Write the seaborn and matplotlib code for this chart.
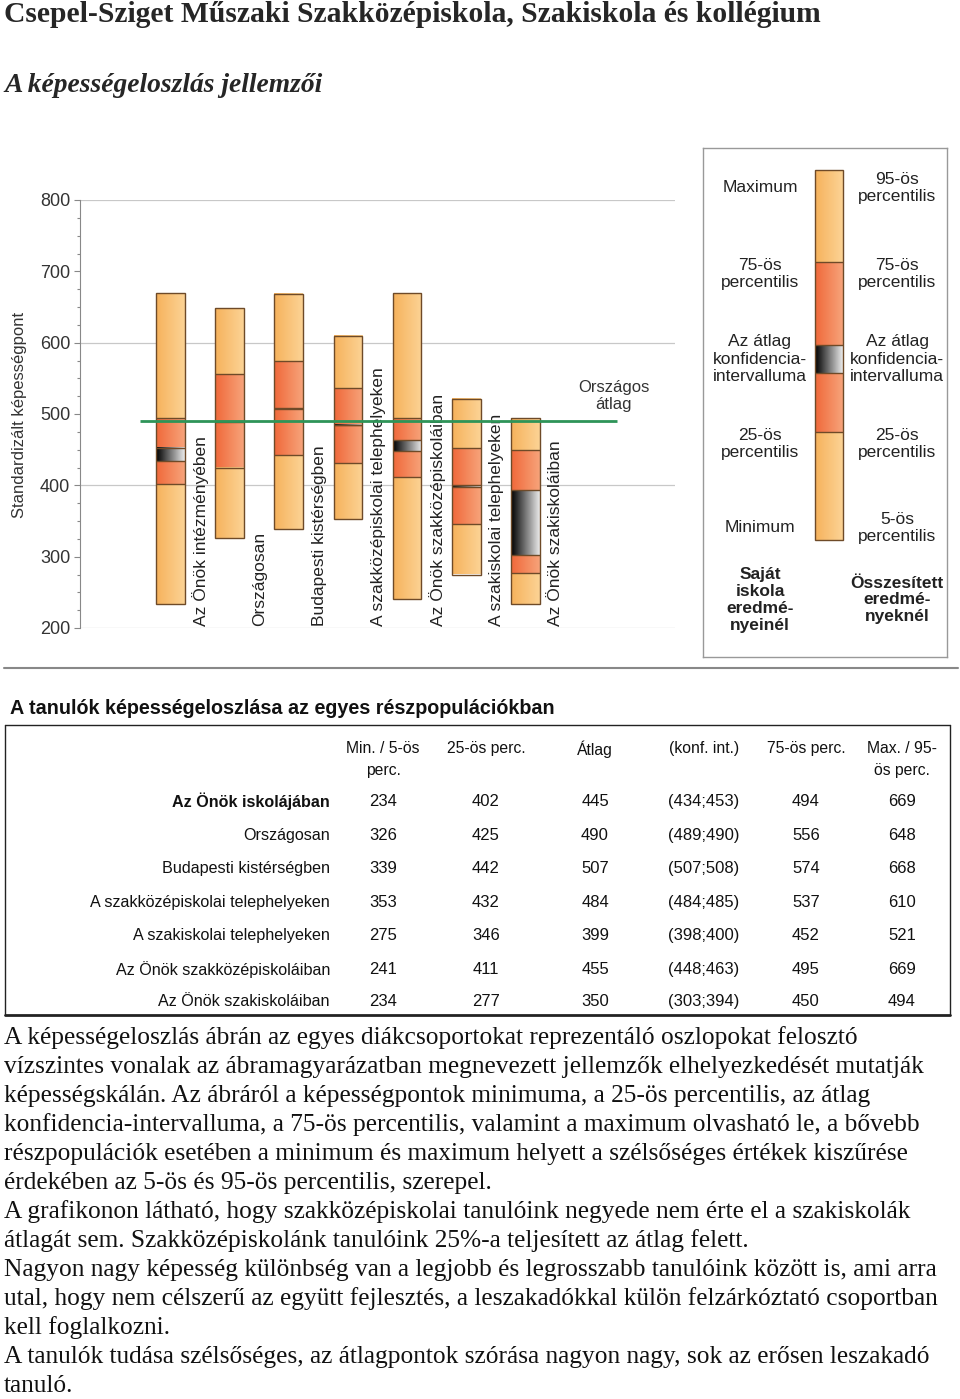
import numpy as np
import matplotlib
matplotlib.use("Agg")
import matplotlib.pyplot as plt
from matplotlib.colors import LinearSegmentedColormap
from matplotlib.ticker import MultipleLocator
import seaborn as sns

# ======================================================
# DATA
# ======================================================

bar_labels = [
    "Az Önök intézményében",
    "Országosan",
    "Budapesti kistérségben",
    "A szakközépiskolai telephelyeken",
    "Az Önök szakközépiskoláiban",
    "A szakiskolai telephelyeken",
    "Az Önök szakiskoláiban",
]

row_labels = [
    "Az Önök iskolájában",
    "Országosan",
    "Budapesti kistérségben",
    "A szakközépiskolai telephelyeken",
    "A szakiskolai telephelyeken",
    "Az Önök szakközépiskoláiban",
    "Az Önök szakiskoláiban",
]

# chart order values
p_low = [234, 326, 339, 353, 241, 275, 234]
p25 = [402, 425, 442, 432, 411, 346, 277]
ci_low = [434, 489, 507, 484, 448, 398, 303]
ci_high = [453, 490, 508, 485, 463, 400, 394]
p75 = [494, 556, 574, 537, 495, 452, 450]
p_high = [669, 648, 668, 610, 669, 521, 494]

national_avg = 490

# table order values
tab_min = [234, 326, 339, 353, 275, 241, 234]
tab_p25 = [402, 425, 442, 432, 346, 411, 277]
tab_mean = [445, 490, 507, 484, 399, 455, 350]
tab_ci = ["(434;453)", "(489;490)", "(507;508)", "(484;485)", "(398;400)", "(448;463)", "(303;394)"]
tab_p75 = [494, 556, 574, 537, 452, 495, 450]
tab_max = [669, 648, 668, 610, 521, 669, 494]

table_headers = [
    "Min. / 5-ös\nperc.",
    "25-ös perc.",
    "Átlag",
    "(konf. int.)",
    "75-ös perc.",
    "Max. / 95-\nös perc.",
]

legend_left = ["Maximum", "75-ös\npercentilis", "Az átlag\nkonfidencia-\nintervalluma",
               "25-ös\npercentilis", "Minimum"]
legend_right = ["95-ös\npercentilis", "75-ös\npercentilis", "Az átlag\nkonfidencia-\nintervalluma",
                "25-ös\npercentilis", "5-ös\npercentilis"]

paragraph = [
    "A képességeloszlás ábrán az egyes diákcsoportokat reprezentáló oszlopokat felosztó",
    "vízszintes vonalak az ábramagyarázatban megnevezett jellemzők elhelyezkedését mutatják",
    "képességskálán. Az ábráról a képességpontok minimuma, a 25-ös percentilis, az átlag",
    "konfidencia-intervalluma, a 75-ös percentilis, valamint a maximum olvasható le, a bővebb",
    "részpopulációk esetében a minimum és maximum helyett a szélsőséges értékek kiszűrése",
    "érdekében az 5-ös és 95-ös percentilis, szerepel.",
    "A grafikonon látható, hogy szakközépiskolai tanulóink negyede nem érte el a szakiskolák",
    "átlagát sem. Szakközépiskolánk tanulóink 25%-a teljesített az átlag felett.",
    "Nagyon nagy képesség különbség van a legjobb és legrosszabb tanulóink között is, ami arra",
    "utal, hogy nem célszerű az együtt fejlesztés, a leszakadókkal külön felzárkóztató csoportban",
    "kell foglalkozni.",
    "A tanulók tudása szélsőséges, az átlagpontok szórása nagyon nagy, sok az erősen leszakadó",
    "tanuló.",
]

# ======================================================
# CONFIGURATION
# ======================================================

W, H = 960, 1399

sns.set_theme(style="white")
plt.rcParams["font.family"] = ["Liberation Sans", "DejaVu Sans"]

NARROW = ["Liberation Sans Narrow", "Liberation Sans", "DejaVu Sans"]
SERIF = ["Liberation Serif", "DejaVu Serif"]

light_cmap = LinearSegmentedColormap.from_list("light", ["#F6B25C", "#FCD395"])
dark_cmap = LinearSegmentedColormap.from_list("dark", ["#F0693A", "#F7A37A"])
ci_cmap = LinearSegmentedColormap.from_list("ci", ["#000000", "#EAEAEA"])
gradient = np.linspace(0, 1, 64).reshape(1, -1)
EDGE = "#6E4A28"


def fx(px):
    return px / W


def fy(py):
    return 1 - py / H


def segment(ax, x0, x1, lo, hi, cmap):
    ax.imshow(gradient, cmap=cmap, extent=[x0, x1, lo, hi],
              aspect="auto", interpolation="bicubic", zorder=2)


fig = plt.figure(figsize=(W / 100, H / 100), dpi=100)

# ======================================================
# TITLES
# ======================================================

fig.text(fx(4), fy(14), "Csepel-Sziget Műszaki Szakközépiskola, Szakiskola és kollégium",
         family=SERIF, weight="bold", fontsize=21.3, ha="left", va="center")
fig.text(fx(4), fy(85), "A képességeloszlás jellemzői",
         family=SERIF, weight="bold", style="italic", fontsize=19.8, ha="left", va="center")

# ======================================================
# MAIN CHART
# ======================================================

ax = fig.add_axes([fx(80), fy(628), fx(675) - fx(80), fy(200) - fy(628)])
bar_w = 0.49
n = len(bar_labels)

for i in range(n):
    x0, x1 = i - bar_w / 2, i + bar_w / 2
    segment(ax, x0, x1, p_low[i], p25[i], light_cmap)
    segment(ax, x0, x1, p25[i], p75[i], dark_cmap)
    segment(ax, x0, x1, p75[i], p_high[i], light_cmap)
    segment(ax, x0, x1, ci_low[i], ci_high[i], ci_cmap)
    ax.hlines([p25[i], ci_low[i], ci_high[i], p75[i]], x0, x1,
              color=EDGE, lw=1.0, zorder=3)

sns.barplot(x=bar_labels, y=np.array(p_high) - np.array(p_low), bottom=p_low,
            width=bar_w, fill=False, color=EDGE, edgecolor=EDGE, linewidth=1.0,
            errorbar=None, ax=ax, zorder=4)

for i, lab in enumerate(bar_labels):
    ax.text(i + 0.51, 203, lab, rotation=90, ha="center", va="bottom",
            fontsize=12.5, color="#222222", zorder=5)

ax.hlines([200, 400, 600, 800], -1.54, 8.54, color="#C8C8C8", lw=0.9, zorder=1)
ax.hlines(national_avg, -0.52, 7.56, color="#2E9458", lw=2.0, zorder=6)
ax.text(7.5, 525, "Országos\nátlag", ha="center", va="center", fontsize=12,
        color="#333333", linespacing=1.2)

ax.set_xlim(-1.54, 8.54)
ax.set_ylim(200, 800)
ax.set_yticks(range(200, 801, 100))
ax.yaxis.set_minor_locator(MultipleLocator(25))
ax.tick_params(axis="y", which="major", left=True, length=4, width=0.8,
               color="#888888", labelsize=13, labelcolor="#333333", pad=3)
ax.tick_params(axis="y", which="minor", left=True, length=2.5, width=0.8, color="#888888")
ax.set_xticks([])
ax.set_xlabel("")
ax.set_ylabel("")
for side in ["top", "right", "bottom"]:
    ax.spines[side].set_visible(False)
ax.spines["left"].set_color("#888888")
ax.spines["left"].set_linewidth(0.8)
ax.patch.set_alpha(0)

fig.text(fx(20), fy(415), "Standardizált képességpont", rotation=90,
         ha="center", va="center", fontsize=12, color="#333333")

# ======================================================
# LEGEND PANEL
# ======================================================

lg = fig.add_axes([fx(703), fy(657), fx(947) - fx(703), fy(148) - fy(657)])
lg.set_xticks([])
lg.set_yticks([])
for side in lg.spines.values():
    side.set_color("#999999")
    side.set_linewidth(1.0)

lx0, lx1 = 112, 140
lbounds = [22, 114, 197, 225, 284, 392]
lcmaps = [light_cmap, dark_cmap, ci_cmap, dark_cmap, light_cmap]
for k, cm in enumerate(lcmaps):
    lg.imshow(gradient, cmap=cm, extent=[lx0, lx1, lbounds[k + 1], lbounds[k]],
              aspect="auto", interpolation="bicubic", zorder=2)
lg.hlines(lbounds[1:-1], lx0, lx1, color=EDGE, lw=1.0, zorder=3)
lg.add_patch(plt.Rectangle((lx0, lbounds[0]), lx1 - lx0, lbounds[-1] - lbounds[0],
                           fill=False, edgecolor=EDGE, lw=1.0, zorder=4))
lg.set_xlim(0, 244)
lg.set_ylim(509, 0)

label_y = [40, 126, 211, 296, 380]
for yy, tl, tr in zip(label_y, legend_left, legend_right):
    lg.text(57, yy, tl, ha="center", va="center", fontsize=12.5,
            color="#222222", linespacing=1.22)
    lg.text(194, yy, tr, ha="center", va="center", fontsize=12.5,
            color="#222222", linespacing=1.22)
lg.text(57, 452, "Saját\niskola\neredmé-\nnyeinél", ha="center", va="center",
        fontsize=12.5, weight="bold", color="#222222", linespacing=1.15)
lg.text(194, 452, "Összesített\neredmé-\nnyeknél", ha="center", va="center",
        fontsize=12.5, weight="bold", color="#222222", linespacing=1.15)

# separator
fig.add_artist(plt.Line2D([fx(4), fx(958)], [fy(668), fy(668)], color="#888888", lw=1.5))

# ======================================================
# TABLE
# ======================================================

fig.text(fx(10), fy(708), "A tanulók képességeloszlása az egyes részpopulációkban",
         family=NARROW, weight="bold", fontsize=14.2, ha="left", va="center", color="#111111")

fig.add_artist(plt.Line2D([fx(5), fx(950)], [fy(725), fy(725)], color="#222222", lw=1.0))
fig.add_artist(plt.Line2D([fx(5), fx(950)], [fy(1015), fy(1015)], color="#222222", lw=2.0))
fig.add_artist(plt.Line2D([fx(5), fx(5)], [fy(725), fy(1015)], color="#222222", lw=1.0))
fig.add_artist(plt.Line2D([fx(950), fx(950)], [fy(725), fy(1015)], color="#222222", lw=1.0))

col_x = [383, 486, 595, 704, 806, 902]
for cx, head in zip(col_x, table_headers):
    fig.text(fx(cx), fy(741), head, family=NARROW, fontsize=11.3, ha="center", va="top",
             color="#111111", linespacing=1.6)

row_y = [800, 834, 867, 901, 934, 968, 1000]
columns = [tab_min, tab_p25, tab_mean, tab_ci, tab_p75, tab_max]
for r, ry in enumerate(row_y):
    fig.text(fx(330), fy(ry), row_labels[r], family=NARROW, fontsize=11.6,
             weight="bold" if r == 0 else "normal",
             ha="right", va="center_baseline", color="#111111")
    for cx, col in zip(col_x, columns):
        fig.text(fx(cx), fy(ry), str(col[r]), family=NARROW, fontsize=12,
                 ha="center", va="center_baseline", color="#111111")

# ======================================================
# PARAGRAPH
# ======================================================

for k, line in enumerate(paragraph):
    fig.text(fx(4), fy(1038 + 29 * k), line, family=SERIF, fontsize=18.3,
             ha="left", va="center", color="#111111")

fig.savefig("out.png", dpi=100)
